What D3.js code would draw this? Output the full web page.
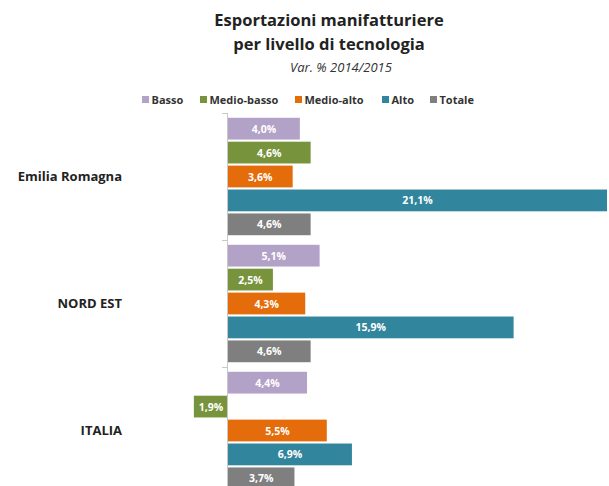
<!DOCTYPE html>
<html>
<head>
<meta charset="utf-8">
<script src="https://cdn.jsdelivr.net/npm/d3@7"></script>
<style>
  body { margin: 0; background: #fff; }
  svg { display: block; font-family: "Open Sans", sans-serif; }
</style>
</head>
<body>
<div id="chart"></div>
<script>
// data
const regions = ["Emilia Romagna", "NORD EST", "ITALIA"];
const series = ["Basso", "Medio-basso", "Medio-alto", "Alto", "Totale"];
const colors = ["#b3a2c7", "#77933c", "#e46c0a", "#31859c", "#7f7f7f"];
const basso = [4.0, 5.1, 4.4];
const medioBasso = [4.6, 2.5, -1.9];
const medioAlto = [3.6, 4.3, 5.5];
const alto = [21.1, 15.9, 6.9];
const totale = [4.6, 4.6, 3.7];
const values = [basso, medioBasso, medioAlto, alto, totale];

const width = 609, height = 486;

const svg = d3.select("#chart").append("svg")
  .attr("width", width)
  .attr("height", height);

// title
const title = svg.append("g").attr("text-anchor", "middle").attr("fill", "#222");
title.append("text").attr("x", 329).attr("y", 26)
  .attr("font-size", 16.5).attr("font-weight", "bold")
  .text("Esportazioni manifatturiere");
title.append("text").attr("x", 329).attr("y", 50)
  .attr("font-size", 16.5).attr("font-weight", "bold")
  .text("per livello di tecnologia");
title.append("text").attr("x", 341).attr("y", 72)
  .attr("font-size", 13).attr("font-style", "italic").attr("fill", "#333")
  .text("Var. % 2014/2015");

// legend
const legendX = [142, 200, 295, 382, 430];
const legend = svg.append("g").selectAll("g")
  .data(series)
  .enter().append("g")
  .attr("transform", (d, i) => "translate(" + legendX[i] + ",100)");
legend.append("rect")
  .attr("x", 0).attr("y", -4)
  .attr("width", 7).attr("height", 7)
  .attr("fill", (d, i) => colors[i]);
legend.append("text")
  .attr("x", 9.5).attr("y", 4)
  .attr("font-size", 11).attr("font-weight", "bold").attr("fill", "#333")
  .text(d => d);

// scales
const x = d3.scaleLinear().domain([0, 21.1]).range([228, 607]);
const y0 = d3.scaleBand().domain(regions).range([113, 494]).paddingInner(0);
const y1 = d3.scaleBand().domain(series).range([0, y0.bandwidth()])
  .paddingInner(0.09).paddingOuter(0.2);

// bars
const groups = svg.append("g").selectAll("g")
  .data(regions)
  .enter().append("g")
  .attr("transform", d => "translate(0," + y0(d) + ")");

const fmt = v => d3.format(".1f")(Math.abs(v)).replace(".", ",") + "%";

groups.each(function(r, ri) {
  const g = d3.select(this);
  const rows = series.map((s, si) => ({ s: s, i: si, v: values[si][ri] }));
  g.selectAll("rect")
    .data(rows)
    .enter().append("rect")
    .attr("x", d => Math.min(x(0), x(d.v)))
    .attr("y", d => y1(d.s))
    .attr("width", d => Math.abs(x(d.v) - x(0)))
    .attr("height", y1.bandwidth())
    .attr("fill", d => colors[d.i]);
  g.selectAll("text")
    .data(rows)
    .enter().append("text")
    .attr("x", d => (x(0) + x(d.v)) / 2)
    .attr("y", d => y1(d.s) + y1.bandwidth() / 2 + 4)
    .attr("text-anchor", "middle")
    .attr("font-size", 10.5).attr("font-weight", "bold")
    .attr("fill", "#fff")
    .text(d => fmt(d.v));
});

// vertical axis at zero, ticks between groups
const axis = svg.append("g").attr("stroke", "#c8c8c8").attr("stroke-width", 1);
axis.append("line")
  .attr("x1", x(0) - 0.5).attr("x2", x(0) - 0.5)
  .attr("y1", 113).attr("y2", height);
axis.selectAll("line.tick")
  .data(regions)
  .enter().append("line")
  .attr("class", "tick")
  .attr("x1", x(0) - 6).attr("x2", x(0))
  .attr("y1", d => y0(d) + 0.5).attr("y2", d => y0(d) + 0.5);

// category labels
svg.append("g").selectAll("text")
  .data(regions)
  .enter().append("text")
  .attr("x", 122)
  .attr("y", d => y0(d) + y0.bandwidth() / 2 + 4.5)
  .attr("text-anchor", "end")
  .attr("font-size", 13).attr("font-weight", "bold").attr("fill", "#222")
  .text(d => d);
</script>
</body>
</html>
